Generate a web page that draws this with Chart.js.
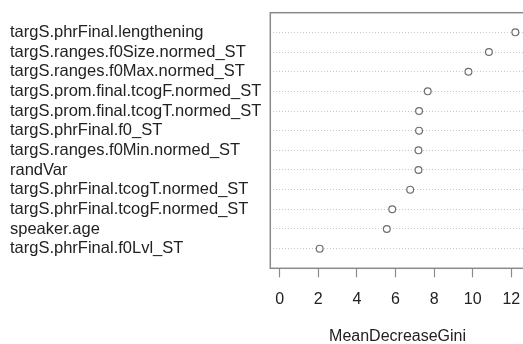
<!DOCTYPE html>
<html lang="en">
  <head>
    <meta charset="UTF-8" />
    <title>MeanDecreaseGini</title>
    <style>
      html, body { margin: 0; padding: 0; background: #fff; overflow: hidden; }
    </style>
  </head>
  <body>
    <canvas id="myChart" width="530" height="344"></canvas>
    <script src="https://cdn.jsdelivr.net/npm/chart.js@4.4.1/dist/chart.umd.min.js"></script>
    <script>
      // variables, top row first
      const variables = [
        "targS.phrFinal.lengthening",
        "targS.ranges.f0Size.normed_ST",
        "targS.ranges.f0Max.normed_ST",
        "targS.prom.final.tcogF.normed_ST",
        "targS.prom.final.tcogT.normed_ST",
        "targS.phrFinal.f0_ST",
        "targS.ranges.f0Min.normed_ST",
        "randVar",
        "targS.phrFinal.tcogT.normed_ST",
        "targS.phrFinal.tcogF.normed_ST",
        "speaker.age",
        "targS.phrFinal.f0Lvl_ST",
      ];
      const meanDecreaseGini = [12.21, 10.84, 9.78, 7.67, 7.22, 7.22, 7.19, 7.19, 6.76, 5.83, 5.55, 2.07];
      const xTicks = [0, 2, 4, 6, 8, 10, 12];

      const n = variables.length;
      const points = meanDecreaseGini.map((v, i) => ({ x: v, y: n - i }));

      const grey = "#8a8a8a";
      const family = "'Liberation Sans', Arial, sans-serif";

      // R style box round the plot region
      const boxPlugin = {
        id: "box",
        afterDraw(chart) {
          const a = chart.chartArea;
          const c = chart.ctx;
          c.save();
          c.strokeStyle = grey;
          c.lineWidth = 1.5;
          c.strokeRect(a.left, a.top, a.right - a.left, a.bottom - a.top);
          c.restore();
        },
      };

      const ctx = document.getElementById("myChart").getContext("2d");
      const myChart = new Chart(ctx, {
        type: "scatter",
        data: {
          datasets: [
            {
              data: points,
              pointRadius: 3.4,
              pointBorderWidth: 1.2,
              pointBorderColor: "#6e6e6e",
              pointBackgroundColor: "#fff",
            },
          ],
        },
        options: {
          responsive: false,
          animation: false,
          devicePixelRatio: 1,
          layout: { padding: { left: 10, top: 12.7, right: 1, bottom: 0 } },
          plugins: {
            legend: { display: false },
            tooltip: { enabled: false },
          },
          scales: {
            x: {
              type: "linear",
              min: -0.488,
              max: 12.7,
              afterBuildTicks: (s) => {
                s.ticks = xTicks.map((v) => ({ value: v }));
              },
              afterFit: (s) => {
                s.height = 75.7;
                s.paddingLeft = 0;
                s.paddingRight = 0;
              },
              grid: {
                drawOnChartArea: false,
                drawTicks: true,
                tickLength: 9,
                tickColor: grey,
                tickWidth: 1.2,
              },
              border: { display: false },
              ticks: { color: "#222", font: { family: family, size: 16 }, padding: 13, maxRotation: 0 },
              title: {
                display: true,
                text: "MeanDecreaseGini",
                color: "#222",
                font: { family: family, size: 16 },
                padding: { top: 0, bottom: -2 },
              },
            },
            y: {
              type: "linear",
              min: 0,
              max: 13,
              afterBuildTicks: (s) => {
                s.ticks = variables.map((_, i) => ({ value: n - i }));
              },
              afterFit: (s) => {
                s.width = 260.3;
              },
              grid: {
                drawTicks: false,
                color: "#c8c8c8",
                lineWidth: 1,
              },
              border: { display: false, dash: [1, 2] },
              ticks: {
                crossAlign: "far",
                color: "#222",
                font: { family: family, size: 16.5 },
                padding: 0,
                callback: (v) => variables[n - v],
              },
            },
          },
        },
        plugins: [boxPlugin],
      });
    </script>
  </body>
</html>
